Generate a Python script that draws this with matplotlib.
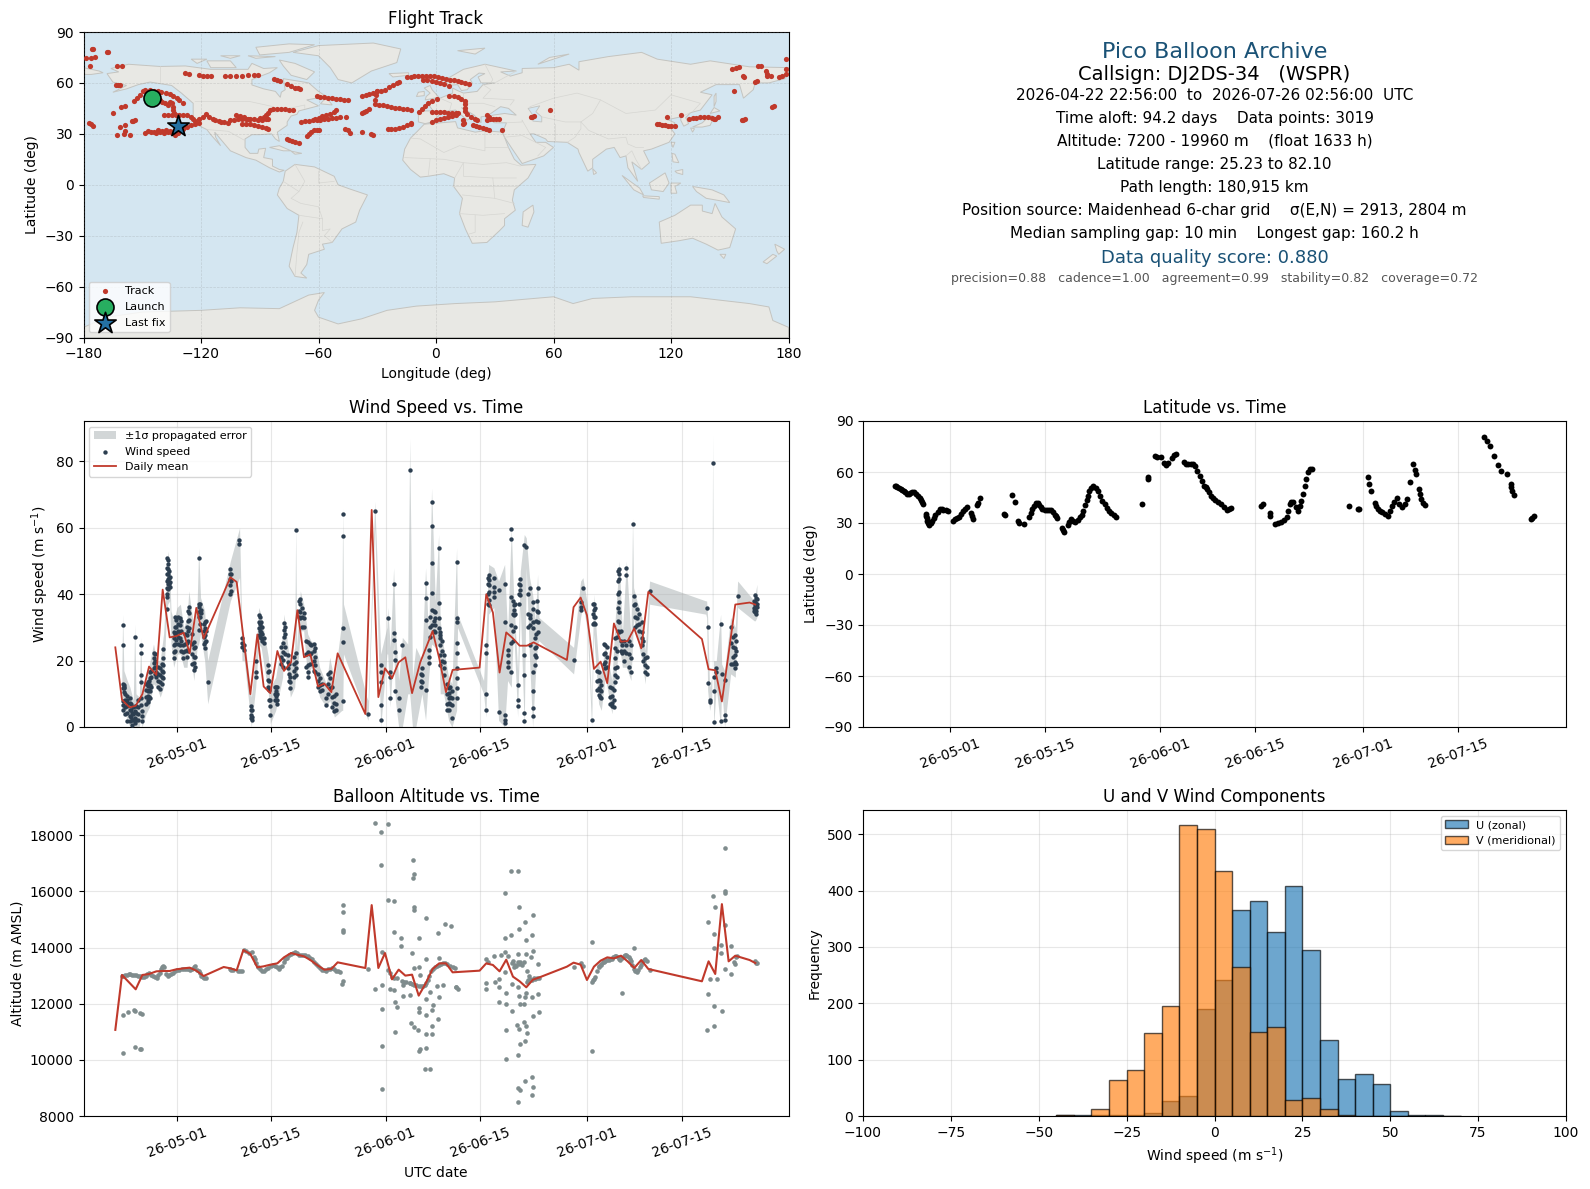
"""Pico balloon flight summary: track map, info block, wind, latitude, altitude, U/V histogram."""
from datetime import datetime

import matplotlib
matplotlib.use("Agg")
import matplotlib.dates as mdates
import matplotlib.pyplot as plt
from matplotlib.patches import Polygon

RED = "#c0392b"
NAVY = "#2c3e50"
GREY = "#7f8c8d"
TITLE_BLUE = "#1a5276"

# ---- map outlines (lon, lat) ----
LAND = [
    [(-168,65.5),(-162,66.5),(-166,68.5),(-157,71),(-141,69.7),(-128,70),(-115,68),(-108,68),(-96,68),(-94,71.5),(-88,68.5),(-81,69),(-85,66),(-94,62),(-94,58.8),(-88,56.5),(-82,55),(-79.5,51.5),(-79,54.5),(-77,56),(-78,62.5),(-70,61),(-65,60),(-60,55),(-56,52),(-66,50),(-60,46.5),(-65,45),(-70,43.5),(-71,41.5),(-74,40.5),(-76,37),(-76,35),(-81,31),(-80,25.5),(-82,27),(-84,30),(-90,29.5),(-94,29.5),(-97.5,27),(-97.5,22),(-95,18.5),(-91,18.5),(-90.5,21),(-87,21.5),(-88,16),(-83.5,15),(-83.5,11),(-80,9),(-77.5,8.5),(-80,7.5),(-85,10),(-92,14.5),(-97,16),(-105,20),(-109,25.5),(-113,31),(-112.5,28),(-110,23),(-115,29.5),(-117,32.5),(-120.5,34.5),(-124,40),(-124,48),(-130,54),(-135,58.5),(-146,60.5),(-152,59),(-158,56.5),(-165,54.5),(-158,58.5),(-165,60.5)],
    [(-80,73.5),(-72,71.5),(-62,66.5),(-66,62),(-74,64.5),(-78,70)],
    [(-117,73),(-105,73),(-102,69),(-115,69)],
    [(-90,76.5),(-75,78),(-62,82.5),(-75,83),(-92,81)],
    [(-125,74),(-117,74),(-122,71.5)],
    [(-96,76),(-82,75.5),(-92,74.5)],
    [(-110,76),(-100,76),(-105,74.5)],
    [(-59,47.7),(-53,47),(-56,51.5)],
    [(-85,22),(-80,23),(-74,20),(-78,20)],
    [(-74,19.8),(-68.5,18.5),(-72,18)],
    [(-73,78),(-60,82),(-32,83.5),(-18,80),(-20,72),(-33,67),(-43,60),(-50,62),(-54,69),(-60,76)],
    [(-77,8),(-72,12),(-62,10.5),(-52,5),(-50,0),(-44,-2.5),(-35,-6),(-39,-15),(-41,-22),(-48,-26),(-53,-34),(-58,-35),(-57,-38),(-65,-41),(-66,-47),(-69,-52),(-66,-55),(-72,-54),(-75,-48),(-73,-37),(-71,-28),(-70,-18),(-76,-14),(-81,-6),(-80,-2),(-78,2)],
    [(-6,35.7),(10,37.2),(11,33.5),(20,31),(25,31.8),(34,31),(37,22),(40,15),(43.5,11.5),(51,12),(47,4),(40,-3),(39,-9),(40.5,-15),(35,-20),(35,-24),(32.5,-27),(26,-34),(18.5,-34.5),(15,-26),(12,-17),(13.5,-8),(9,-1),(9.5,4),(4,6.5),(-4,5),(-8,4.5),(-13,9),(-17,14.5),(-16,21),(-13,27.5),(-9.5,31.5)],
    [(49.5,-12),(50,-16),(47,-25),(44,-24),(44.5,-16)],
    [(-9,37),(-9,43.5),(-1.5,43.5),(-4.5,48.5),(2,51),(8.5,54),(8.5,57),(11,55.5),(14,54),(21,55),(24,59),(30,60),(23,60),(21.5,63.5),(25,65.5),(22,65.8),(17.5,62),(18.5,60),(16,56),(13,55.5),(11,59),(6,58.5),(5,62),(14,68),(25,71),(41,67),(33,66.5),(38,64),(44,66),(44,68.5),(60,69),(68,71),(73,67.5),(73,72.5),(88,75.5),(105,78),(113,74),(130,71),(140,73),(160,69.5),(180,69),(180,65),(178,62.5),(170,60),(163,60),(162,56),(157,51),(155.5,57),(155,59),(143,59),(135,54.5),(141,53),(135,44),(130,42.5),(127.5,39.5),(129,36),(126.5,34.5),(125,38),(125,40),(121,39),(118,38.5),(122,36.5),(120,33),(122,30),(119,25),(110,21),(106,20),(109,13),(105,9),(100,13.5),(103,2),(100.5,6),(98,10),(97,17),(94,16),(91,22),(87,21),(80,15),(80,10),(77.5,8),(73,19),(72.5,21),(67,25),(57,25.5),(56,27),(50,30),(48,30),(51,25),(56,25),(60,22),(55,17),(44,12.5),(39,21),(35,28),(34,31),(36,36.5),(30,36.5),(26.5,39),(29,41),(35,42),(41,41),(37,45),(33,46),(28,42),(26,40.5),(23,40),(23,36.5),(19.5,41),(13,45.5),(18,40),(16,38),(10,44),(3,43),(0,39),(-2,37),(-5.5,36)],
    [(-180,69),(-172,67),(-170,66),(-176,65),(-180,65)],
    [(-5.5,50),(1.5,51.5),(-2,56),(-3,58.5),(-6,57),(-3,54),(-5,52)],
    [(-10,52),(-6,52.5),(-6,55),(-9,54.5)],
    [(-24,65.5),(-14,66),(-14,64.5),(-22,63.5)],
    [(11,79),(25,80.5),(20,77)],
    [(52,71),(68,77),(58,75)],
    [(131,34),(136,34),(140,35),(142,40),(140,41),(136,36.5)],
    [(140,42),(145,43.5),(142,45.5)],
    [(130,33.5),(132,33),(131,31)],
    [(142,46),(143,49),(143,54),(142,52)],
    [(120,25),(122,25),(121,22)],
    [(120.5,18.5),(122,18),(124,13),(121,13.5)],
    [(122,8),(126,9),(126,6),(123,7)],
    [(109,1),(117,7),(119,1),(116,-4),(110,-3)],
    [(95,5.5),(104,-2),(106,-6),(101,-3)],
    [(105.5,-6.5),(114,-7),(114,-8.5),(106,-7.5)],
    [(120,1),(125,1),(122,-1),(123,-5),(120,-5)],
    [(131,-1),(141,-3),(147,-6),(150,-10.5),(143,-9),(138,-8),(133,-4)],
    [(80,9.5),(82,7),(80.5,6)],
    [(114,-22),(122,-18),(130,-12),(136,-12),(136,-15.5),(141,-17),(142.5,-11),(146,-19),(153,-26),(150,-37),(144,-38.5),(138,-35),(131,-31.5),(124,-33),(115,-34.5)],
    [(145,-41),(148,-41),(147,-43.5)],
    [(173,-35),(178,-38),(175,-41),(174,-39)],
    [(172,-41),(174,-42),(169,-46.5),(167,-45.5)],
    [(-180,-84),(-168,-78),(-150,-75),(-120,-74),(-100,-72.5),(-80,-73),(-65,-65),(-57,-63.5),(-60,-68),(-62,-74),(-60,-78),(-50,-82),(-38,-79),(-25,-74),(-10,-71.5),(10,-70),(30,-69),(60,-66),(70,-70),(80,-67),(100,-66),(130,-66),(160,-70),(170,-72),(172,-80),(180,-84),(180,-90),(-180,-90)],
]
CASPIAN = [(47,45),(53,46.5),(51,43),(54,40),(54,37),(49.5,37.5),(49.5,41)]
BORDERS = [
    [(-123,49),(-95,49),(-83,46),(-82,42.5),(-75,45),(-67,47),(-67,45)],
    [(-141,69.7),(-141,60.5)],
    [(-117,32.5),(-106,31.5),(-97.5,26)],
    [(-70,-18),(-58,-20),(-58,-27),(-54,-26),(-57,-30),(-53,-34)],
    [(-72,-54),(-71,-40),(-70,-28),(-68,-22)],
    [(-78,2),(-70,-4),(-74,-8),(-69,-11),(-60,-13),(-58,-20)],
    [(-72,12),(-67,2),(-70,-4)],
    [(-60,8),(-60,1),(-52,2)],
    [(-13,27.5),(-8,27),(4,19),(12,23),(25,20),(25,31.8)],
    [(25,22),(37,22)],
    [(-16,16),(4,15),(14,13),(24,12),(36,13),(43,11)],
    [(9.5,4),(14,13),(14,5),(29,4),(41,4)],
    [(13.5,-6),(30,-8),(40,-11)],
    [(12,-17),(24,-18),(35,-17)],
    [(20,-18),(20,-28),(17,-29)],
    [(30,-8),(29,4)],
    [(-4,5),(-3,15)],
    [(8,-1),(30,-1),(41,-1)],
    [(2,51),(8,48),(7,44)],
    [(14,54),(14,48),(24,48),(30,46)],
    [(24,59),(28,56),(24,51),(40,50),(38,47)],
    [(48,46),(60,51),(72,54),(84,50),(97,42),(112,44),(120,53),(135,48),(131,43)],
    [(54,40),(66,37),(74,37),(80,42),(84,50)],
    [(61,36),(61,25)],
    [(44,38),(46,34),(48,30)],
    [(36,36.5),(44,37),(44,38)],
    [(74,37),(78,32),(88,27),(97,28),(98,24),(102,22),(106,22)],
    [(67,25),(71,28),(74,33),(74,37)],
    [(97,17),(100,20),(102,15),(105,9)],
    [(41,67),(30,60)],
    [(25,71),(29,62),(28,60)],
    [(35,28),(44,29),(56,22),(52,17)],
    [(125,40),(130,42.5)],
]

# ---- track, split by region (lon, lat) ----
TRACK_PACIFIC = [
    (-178.8,74.6),(-176.4,74.6),(-174,75.4),(-175.7,80),(-175,79.8),(-168,78.5),(-167.4,78),(-176.9,70),(-162.7,69.9),(-160.3,69.9),
    (-163.6,59),(-162.5,59),(-161.5,58.8),(-165,42.2),(-160.7,46),(-159,46.6),(-155.4,37.3),(-154.5,37.6),(-153.5,37.9),(-177,36.5),(-176,35.6),(-175,34.6),
    (-161.2,34),(-159,35),(-163,29.5),(-159.5,30),(-159,31.6),(-156.4,29.5),(-148.7,30.5),(-147,31.5),(-145.5,31),(-144,31.2),(-143,30.5),(-142,32),(-141,31),
    (-140,31.5),(-139,30.5),(-138,32),(-137,31),(-136,31.5),(-135,30.7),(-134,31.5),(-133.5,29.5),(-132,30.5),(-154,49.6),(-152.5,51),(-151,53),(-149.5,55),(-148.7,55.8),
    (-146,55.8),(-144,55.5),(-142,55.2),(-140.3,54.9),(-138,54),(-136,53.2),(-134.2,52.5),(-132.5,51),(-131,49.8),(-129,48),(-141,50),(-140,49),(-138.5,48),(-137,47),
    (-136,49),(-135,48),(-134.5,46),(-134.2,44),(-134,42),(-139,41),(-137,41),(-135,41),(-133,41),(-131,41),(-129,41),(-127,41),
]
TRACK_AMERICA = [
    (-133,31),(-131,32),(-129,33),(-127,34),(-125,35),(-123,36),(-121,36.5),(-125,40),(-124,38.5),(-123,37.5),(-121,38.7),(-119,40),(-117.4,41.4),(-116,40),(-114,39),(-112.6,38),(-111,37.5),
    (-110,37),(-108,37),(-106,36.5),(-105,38),(-103,38),(-101,38.5),(-99,38.5),(-97,38.7),(-95,38.5),(-93,38.5),(-91,38),(-89,38),(-87,38.5),(-86,38.5),
    (-99,36),(-97,35.7),(-95,35.5),(-93,35),(-91,34.5),(-89,34),(-87,33.5),(-86,33),(-102,41),(-100,40.5),(-98,40),(-96,39),(-90,39.5),(-88,40),(-87,41),(-86,42.5),(-85,44),
    (-83,44.5),(-81,44.8),(-79,44.7),(-77,44.5),(-75,44.3),(-73,44),(-128,65.6),(-126,65.4),(-121,64.8),(-119,64.3),(-117,64.2),(-115,64.2),(-107.8,64.2),(-105,64.1),(-102,64),(-99,64.3),(-96,64.5),(-93,64.6),(-91,64.6),
    (-82.5,62.3),(-81,61.8),(-79.5,61),(-76,59.5),(-74,58.3),(-72,57.2),(-70.5,56.8),(-69.2,56.4),(-76,27),(-75,26.2),(-73.5,25.7),(-72,25),(-70,24.8),
]
TRACK_ATLANTIC = [
    (-66,29),(-65,30),(-64,31),(-62.5,32),(-61,32.4),(-60,32.4),(-69,37),(-67,37.3),(-65,37.7),(-63,38),(-61,38),(-59,38.3),(-57,38.7),(-55,39),(-53,39.3),(-51,39.6),(-49,39.8),(-46,40),
    (-62,38.5),(-60,39.5),(-58,40.5),(-56,41),(-54,41.5),(-52,43),(-51,44),(-61,52),(-59,51.8),(-57,51.5),(-55,51.2),(-53,51),(-51,50.7),(-49,50.3),(-47,50.2),(-45,50),
    (-38,52),(-36,52.7),(-34,53.5),(-32,54),(-30,55),(-28,55.3),(-26,56),(-24,57.5),(-22,59),(-20,60),(-19,60.3),(-38,42),(-37,43),(-36,43.5),(-34,44.7),
    (-31,47.6),(-29,47),(-27,46.8),(-25,46.3),(-23,45.8),(-21,45.5),(-19,45),(-17,44.6),(-15,44.4),(-13,44.1),(-31,50),(-30.5,53),(-30,55),
    (-46.4,33),(-45,32),(-44,30.4),(-38,31),(-32,29.5),(-33,30),(-24.7,33),(-23,33),(-21,33),(-19,33.2),(-17,34),(-15,35),(-13,36),(-12.6,36.5),
]
TRACK_EUROPE = [
    (-15,63.3),(-13,63.5),(-11,63.8),(-9,64),(-7,64),(-5,64),(-3,64),(-1,63.8),(1,63.5),(3,63),(5,62.5),(7,62),(9,61.5),(11,61),(13,60.5),(15,60),(17,59.3),
    (-6.6,61.7),(-4.5,61.7),(-2,61),(0,60.5),(2,60),(4,59.2),(6.6,58.4),(-8.5,42.8),(-7,44.5),(-5.5,46.5),(-4,48),(-2,49.5),(0.6,50.6),
    (6.6,52),(9,52),(11,51.5),(13,50.5),(15,49.6),(15,47.5),(15,45.5),(15,43.5),(16,41.5),(18,40),(20,39),(21,38),
    (-2,43),(0,43),(2,42.8),(4,42.6),(6,42.4),(8,42.2),(10,42),(11.4,42),(-2,37),(0,38),(2,38.8),(4,39.5),(6,40),(8,40.6),(10.2,41),(14,38),(14,36),(14.5,36.5),
    (18.7,35),(20.5,34.5),(22,34),(24,33.5),(25.5,32.8),(27,32),(26,38),(27.5,38.5),(29,38.6),(30.5,38.8),(32,39),(33.6,32.4),(27,40),(26,41),
]
TRACK_ASIA = [
    (48.3,39.8),(49.2,40.2),(50,40.4),(58.4,44.1),(112.6,35.5),(114,35.5),(115.5,35.2),(117,35),(118.5,34.6),(120,34.6),(122,34.4),(118,39.8),(125,41),
    (129.4,38.7),(131,39.2),(133,39.6),(135,39.9),(137,40),(139,39.8),(141,39.5),(142.5,38.8),(143.9,39.8),(142,38.5),(156,37.9),(157,38),(158,38.5),(171.6,46.1),(172.5,46.5),
    (152.3,55.4),(151,68),(153,69),(154.7,69.5),(157,64.2),(157.3,63.2),(163,60.3),(164,61),(164.3,69.7),(166,69.8),(168.4,67.2),(169,65.5),(169.2,64.2),(171,64),(175,63.3),(176.5,64),(178.8,65.2),(178.8,68),(178.8,74),
]
LAUNCH = (-144.8, 51.2)
LAST_FIX = (-131.8, 34.4)

# ---- info block ----
INFO_LINES = [
    "2026-04-22 22:56:00  to  2026-07-26 02:56:00  UTC",
    "Time aloft: 94.2 days    Data points: 3019",
    "Altitude: 7200 - 19960 m    (float 1633 h)",
    "Latitude range: 25.23 to 82.10",
    "Path length: 180,915 km",
    "Position source: Maidenhead 6-char grid    \u03c3(E,N) = 2913, 2804 m",
    "Median sampling gap: 10 min    Longest gap: 160.2 h",
]
QUALITY_LINE = "precision=0.88   cadence=1.00   agreement=0.99   stability=0.82   coverage=0.72"

# ---- wind speed: day offsets are days from 2026-05-01 ----
WIND_COLUMNS_MAY = [
    (-8.08,[30.6,24.6,13.1,11.7,7.7,6.7,5.2]),(-7.93,[12.7,12.2,11.7,10.5]),(-7.43,[9.2,8.2,7.2,6.2,4.2,1.7]),(-7.04,[8.7,7.2,5.2,3.2,1.7]),(-6.7,[4.2,2.2,0.7]),
    (-6.29,[27,6.2,4.7,2.7,1.2]),(-6.1,[6.2,4.2,2.2]),(-5.4,[24.7,22.2,15.7,13.7,8.7,6.7]),(-5.2,[4.7,3.2,1.9]),(-4.36,[13.7,12.5,10.7,9.2,8.2,7.4]),
    (-4.06,[16.7,14.7,12.7,10.7,8.7]),(-3.47,[22.2,20.7,19.2,17.7]),(-3.07,[16.7,15.2]),(-2.48,[17.7,15.7,13.7,11.4]),(-2.03,[23.4,20.7,18.7,16.7,14.7]),
    (-1.54,[40.2,39.2,35.7]),(-1.39,[50.2,49.2,47.7,46.2,44.7,43.2,41.7]),(-1.09,[45.2,43.7,42.2]),(-0.5,[28.7,26.7,24.7,22.7,20.7]),(-0.1,[32.2,30.2,28.2,26.2]),
    (0.4,[32.7,30.7,28.7,26.7,24.7]),(0.84,[24.7,22.7,20.7]),(1.49,[30.2,27.7,25.2,23.2,21.2]),(1.73,[36.2,34.2,32.2,29.7]),(2.48,[25.7,23.7,21.2,19.2,17.2]),
    (3.22,[51,37.2,36.2,34.7,33.2,29.2]),(3.57,[35.2,34.2]),(4.11,[31.7,29.7,27.7,25.7,23.7]),(4.56,[13.6]),(7.93,[47.7,46.2,44.7,42.7,40.2]),(9.17,[56.2,55.2]),
    (9.66,[26.7,25.2,24.2]),(10,[24.7,23.2]),(11.05,[6.2,5.2,3.7,2.7]),(11.7,[19.9,16.7,15.2]),(12.14,[33.7,31.7,29.7,27.7]),(12.49,[31.7,30.2,28.7,26.7]),(12.88,[26.7,25.2]),
    (13.58,[18.7,16.7,14.2,12.2]),(13.87,[8.2,6.2,3.7]),(14.67,[12.2,10.7,9.2,8.2]),(15.71,[25.2,22.7,20.2,18.2]),(15.9,[31.2,29.2,27.2]),(16.5,[21.7,19.7,17.7]),
    (16.85,[15.2,13.7,11.7]),(17.64,[59.4,22.2,19.7,17.7,15.7]),(18.33,[38.7,37.2,34.7,32.7]),(18.83,[34.2,32.7,30.2]),(19.43,[25.7,22.7,18.7,16.7,15.2]),(19.9,[24.7,22.2]),
    (20.56,[23.7,21.2,18.7,16.7]),(21.2,[14.7,12.7,10.7]),(22.2,[8.7,6.7]),(22.7,[16.7,14.7,11.7]),(23.4,[9.2,7.2,4.7]),(24.63,[64.2,57.6,29.7,25.7,7.8]),(28.34,[3.9]),(29.39,[65.1]),
    (30.28,[18.7,16.7,13.7,6.7,2.2]),(31.32,[32.7]),(31.7,[16.7,15.2,8.7]),(32.2,[43,28.2,26.2]),(32.46,[22.7,20.2,10.7]),(32.95,[8.7,5.2]),(33.5,[24.7]),(34.59,[77.4]),
    (-7.7,[10,8,6,4]),(-6.9,[7,5,3]),(-6.5,[6,4,2]),(-5.8,[8,6,4,2]),(-4.6,[13,11,9,7]),(-4.2,[14,11,9]),(-3.8,[17,15,12]),(-3.3,[22,20,18,16]),(-2.8,[18,16,14,12]),(-2.2,[19,17,15,13]),
    (-1.45,[51,48,46,44,42]),(-1.25,[47,45,43]),(-0.3,[33,30,28,25,23]),(0.15,[33,31,29,27,25]),(0.6,[32,29,26,23]),(1.2,[28,25,23]),(1.6,[35,32,29,26,23]),(2.3,[28,25,22,19]),(2.7,[24,21,18]),(3.35,[37,35,33,31]),
    (3.95,[31,29,27,25]),(4.25,[32,29,26]),(8.0,[46,44,41]),(11.15,[5,3,2]),(12.3,[33,31,29,27]),(12.7,[30,28,26]),(13.7,[17,14,11,8]),(14.5,[12,10,8]),(14.85,[12,10,8,7]),(15.5,[24,21,19]),
    (16.1,[30,28,24,22]),(16.7,[19,16,14]),(17.4,[21,19,17,15]),(18.1,[38,35,33]),(18.6,[36,33,30]),(19.2,[26,22,18]),(19.7,[25,22,19]),(20.3,[25,23,20,17]),(20.9,[16,14,12]),(21.5,[13,11]),(22.5,[16,13,10]),(23.1,[12,9,6]),(23.7,[10,7,5]),
]
WIND_COLUMNS_JUN = [
    (36.4,[17.7,15.7,13.7]),(36.95,[43.3,38.9,32.2,11.2]),(37.4,[23.2,21.2,19.2]),(37.84,[67.8,60.6,49.5,40.5,35.2,30.7]),(38.39,[34.7,32.7,30.7,28.7]),(38.89,[54,37.5,32.7,29.7]),
    (39.13,[28.7,27.7,26.7,24.7,21.7,18.7]),(39.63,[21.7,19.7,17.7,15.7]),(40.37,[11.7,10.2,8.7,7.2,5.2]),(40.87,[10.7,8.7,6.7,2.7]),(41.56,[49.8,32.7,31.7,25.2,22.2,17.7,14.7,11.7,8.7]),
    (45.92,[9.9,5.1,24.7,22.2]),(46.32,[45.7,44.2,42.7,40.7,38.2,36.7]),(47.1,[44.9,42.2,40.7,39.2]),(47.8,[41.2,4.5]),(48.7,[43.2,31.5,3.7,2.2,1.2]),(49.14,[23.2,21.7,19.7,18.2]),
    (49.69,[59.7,56.7,39.2,30.7,25.2,16.7]),(50.03,[36.7,35.2,33.7]),(50.63,[12.7,8.2,6.2]),(51.03,[44.7,42.7,41.2,39.7]),(51.62,[54.9,21.7,15.7,4.2,1.7]),(51.92,[54.2]),
    (52.41,[41.9,33.7,32.7,30.7,24.7]),(52.86,[37.7,35.7,31.7,29.7,16.7,10.7,5.7,3.2]),(53.26,[26.7,23.7,21.7,18.7]),(53.6,[41.9,34.7,31.7,28.7]),
    (58.95,[20.1]),(60,[37.7,36.2,35.2]),(60.34,[41.8]),(61.63,[2.1]),(61.93,[37.2,35.2,33.2,31.2]),(62.67,[16.7,14.2,11.7,9.7]),(63.07,[12.7,10.7,8.7]),(63.66,[24.7,22.2,19.7,17.7]),
    (64.65,[11.7,9.2,7.2,6.2]),(65.15,[26.7,23.7,20.7,17.7,15.7,13.7]),(65.74,[47.7,46.2,44.7,40.7,37.7,34.7,31.7,28.7]),(66.2,[24.7,22.2]),(66.8,[47.9,45.7,24.7,22.2]),
    (67.48,[24.7,20.7,16.7]),(67.72,[61.2]),(67.87,[39.5,36.7]),(68.37,[35.7,32.7,30.7]),(69.11,[31.7,28.7,26.7,24.7]),(69.6,[20.7,18.7,16.7]),(70.25,[41]),
    (78.73,[36]),(78.88,[30,13.2]),(79.17,[8.2,7.4]),(79.62,[79.5]),(79.77,[15.2,10.7,1.4]),(80.16,[17.7,16.7]),(80.81,[30.9,1.7]),(80.96,[15.9]),(81.4,[14.2,3.7,2.2]),
    (82.3,[30.2,25.2,18.9]),(82.99,[27.7,23.7,21.7,19.7,17.7]),(83.34,[39.6]),(85.96,[39.7,37.7,36.7,35.7,34.7]),(86.2,[38.7,37.2,36.2]),
    (36.2,[16,14,12]),(37.6,[33,30,27]),(38.2,[35,32,29]),(39.4,[26,23,20]),(40.1,[13,10,7,5]),(40.6,[12,9,7]),(46.2,[45,43,40,37]),(49.9,[38,34,29,26]),(50.3,[37,34,30]),(50.9,[43,40,37]),(52.2,[40,34,30]),(53.4,[32,28,24,21]),(53.5,[38,35]),
    (61.8,[37,34,31]),(62.1,[36,33,31]),(62.5,[17,14,11]),(62.9,[14,11,9]),(63.4,[25,22,19]),(63.9,[24,21,18]),(64.4,[12,9,7]),(64.9,[11,8,6]),(65.4,[27,23,18,15]),(65.6,[47,44,40,36,32,29]),(66,[29,26,23]),(66.5,[26,23,20]),(67.2,[26,22,18]),
    (68.1,[37,33,30]),(68.7,[34,31,29]),(69.3,[26,22,20]),(69.8,[21,18,16]),(82.6,[27,24,21,19]),(83.1,[26,23,19]),(85.7,[38,36,35]),(86.05,[39,37,35,34]),
]
# error band envelope (day, low, high)
WIND_BAND = [
    (-8.2,8,17),(-8.08,3,34),(-7.9,6,17),(-7.4,2,14),(-7,0,12),(-6.5,0,8),(-6.29,0,31),(-6.1,0,10),(-5.6,0,9),(-5.4,3,27),(-5.2,0,10),(-4.6,4,14),(-4.1,6,19),(-3.5,13,25),(-3,12,20),(-2.5,9,20),(-2,12,28),(-1.6,33,42),(-1.39,37,53),(-1.09,38,48),
    (-0.9,25,35),(-0.5,18,32),(0,22,36),(0.5,22,37),(1,18,30),(1.5,18,33),(1.75,27,41),(2.5,14,30),(3,24,38),(3.22,25,54),(3.5,28,39),(4.11,20,35),(4.56,7,20),(7.93,38,50),(9.3,45,60),(9.66,20,28),(10,20,27),(11.05,0,9),(11.7,12,22),(12.14,25,36),
    (12.5,24,34),(13.58,10,21),(13.87,1,12),(14.67,5,15),(15.7,15,28),(15.9,25,34),(16.5,15,24),(16.85,9,18),(17.5,12,24),(17.64,17,61),(17.8,14,24),(18.33,29,41),(18.83,29,37),(19.43,14,28),(19.9,18,26),(20.56,15,25),(21.2,9,18),(22.2,6,13),(22.7,8,21),(23.4,3,14),
    (24.5,5,32),(24.63,5,66),(24.75,22,37),(28.2,3,9),(28.4,2,8),(29.39,60,68),(30.28,0,22),(31.2,22,30),(31.32,22,36),(31.7,6,24),(32.2,25,48),(32.46,8,30),(32.95,0,14),(33.5,0,27),(34.3,10,25),(34.59,10,87),(35,0,15),(35.5,0,24),(36.4,10,20),(36.95,2,48),
    (37.4,15,27),(37.84,25,72),(38.39,24,38),(38.89,25,58),(39.13,10,32),(39.63,10,24),(40.37,2,15),(40.87,0,13),(41.56,5,54),(41.7,30,34),(45.57,10,14),(45.92,3,27),(46.32,34,49),(47.1,36,48),(47.8,2,44),(48.7,0,49),(49.14,14,28),(49.69,12,60),(50.03,30,40),(50.63,3,17),
    (51.03,36,47),(51.62,0,58),(51.92,48,57),(52.41,20,45),(52.86,0,40),(53.26,15,32),(53.6,25,46),(53.8,26,33),(58.95,16,24),(60,33,44),(60.34,37,45),(61,29,37),(61.63,0,7),(61.93,28,40),(62.67,7,19),(63.07,5,16),(63.66,15,25),(64.65,4,14),(65.15,14,33),(65.74,25,50),
    (66.2,18,28),(66.8,18,50),(67.48,14,27),(67.72,25,63),(67.87,33,42),(68.37,27,38),(69.11,20,33),(69.6,13,23),(70.25,37,44),(78.6,34,38),(78.73,33,38),(78.88,11,33),(79.17,5,12),(79.5,8,15),(79.62,60,88),(79.77,0,20),(80.16,12,20),(80.81,0,34),(80.96,12,19),(81.4,0,17),
    (82.3,16,33),(82.99,15,30),(83.34,36,44),(85.8,32,38),(85.96,32,40),(86.2,33,43),
]
WIND_MEAN_DAY = [-9.17,-8.18,-7.04,-6.14,-5.15,-4.16,-3.07,-2.13,-1.09,-0.1,1,1.88,2.87,3.96,6.94,7.93,8.87,10.9,11.94,12.88,13.87,14.92,15.9,16.95,17.89,18.88,19.82,20.96,21.9,22.94,23.88,28,28.94,29.93,30.92,31.96,32.95,33.94,34.94,36.16,37.99,38.98,39.98,40.97,44.98,45.97,46.96,47.95,48.94,49.94,50.93,52.02,53.01,57.96,58.95,60,60.94,61.98,62.97,63.96,64.95,66,66.98,67.97,69.01,70.06,78.03,79.02,80.01,81,82,82.99,85.12,85.96]
WIND_MEAN = [24,8.2,5.9,6.4,9.9,18.2,15.7,41.4,27,27.4,28.4,22.2,35.9,26.7,40.4,45.1,43.7,9.9,27.9,12.2,10.2,22.9,16.9,19.5,35.2,21,21.9,12.2,13.1,10.5,22.2,3.9,65.4,9,17.7,14.7,19.5,21,10.2,19.5,28.9,20.7,10.5,17.2,17.9,40,34.5,16.4,28.5,26.7,24.5,24.5,25.5,20.2,36.1,39,33.7,17.5,19.7,13.2,31.2,25.7,25.9,29.7,23.7,40.7,26.5,17.4,17.1,7.7,22.2,36.9,37.5,36.9]

# ---- latitude vs time (day, lat) ----
LAT_FIRST_PASS = [
    (-8.13,51.6),(-7.95,51.5),(-7.8,51.4),(-7.5,50.6),(-7.26,50),(-7,49.5),(-6.8,49),(-6.55,48),(-6.33,47),(-6.05,47.2),(-5.8,47.6),(-5.5,48),(-5.26,48.4),(-4.95,47.2),(-4.66,46),(-4.45,45),(-4.26,43.7),(-4.1,42.5),(-3.93,41.2),
    (-3.5,35.5),(-3.46,34.3),(-3.38,33),(-3.33,31.4),(-3.15,30),(-3,28.8),(-2.8,30),(-2.6,31.4),(-2.35,33),(-2.13,34.9),(-1.8,36.5),(-1.47,38),(-1.2,38),(-0.93,37.8),(-0.6,37.4),(-0.27,36.9),
    (0.53,31.4),(0.75,32.5),(1,32.8),(1.33,33.7),(1.65,35.5),(2,37.3),(2.3,38.5),(2.6,39.6),(3.06,35.9),(3.25,34),(3.4,32.4),(4.06,40.6),(4.1,41.5),(4.53,44.7),
    (8.06,35.1),(8.2,34.8),(9.19,46.5),(9.66,42.5),(10.13,31),(10.2,29.8),(11,29.4),(11.73,33.7),(11.95,36),(12.13,38.2),(12.4,40),(12.66,41.8),(12.95,41.5),(13.19,40.8),(13.45,39.5),(13.66,38.2),(14,37.8),(14.32,37.6),(14.65,37.7),(14.99,37.8),(15.25,36.5),(15.52,34.9),(15.7,34),(15.86,32.9),
    (16.52,27.1),(16.65,26),(16.79,24.9),(17.39,28.8),(17.6,30.5),(17.85,32.4),(18.2,31.3),(18.52,30.4),(18.85,31.8),(19.19,33.3),(19.45,35),(19.65,37.3),(19.9,40.5),(20.19,43.5),(20.35,46),(20.52,49),(20.85,50.7),(21.19,52),(21.5,50.5),(21.85,49),(22.2,46),(22.52,43.1),(22.85,41),(23.18,38.6),(23.5,37),(23.85,35.9),(24.2,34.8),(24.52,33.7),
]
LAT_SECOND_PASS = [
    (28.38,41.2),(29.25,55.9),(29.28,57),(30.31,69.6),(30.5,69),(31.18,68.6),(31.6,65.5),(31.85,64.1),(32.2,65.5),(32.71,68),(33.1,70),(33.38,70.6),(34.51,65.7),(34.9,65),(35.2,65),(35.51,64.9),(35.85,64.5),(36.18,63.7),(36.5,60.5),(36.84,57.8),(37.2,55),(37.51,52),(37.75,51),(37.97,50),(38.25,48),(38.51,46),(38.85,44.5),(39.17,43.5),(39.55,42.5),(39.97,41.2),(40.4,39.5),(40.84,37.8),(41.15,38),(41.5,38.8),
    (45.97,40.2),(46.2,41),(47.17,35.9),(47.2,34),(47.97,29.4),(48.4,30),(48.83,30.4),(49.3,31.5),(49.7,33.3),(49.9,37),(50.17,41.2),(50.4,42.5),(50.63,42.2),(51,39.5),(51.37,37.3),(51.6,40),(51.83,43.1),(52.1,47),(52.36,52),(52.6,56),(52.83,59.8),(53.15,61.5),(53.5,61.8),
    (58.96,40.2),(60.16,38.2),(60.4,38),(61.62,56.9),(61.9,53),(62.16,49),(62.69,41.8),(62.9,39.8),(63.16,38.2),(63.5,37),(63.82,36.3),(64.2,35.3),(64.62,34.3),(65,37),(65.29,40.2),(65.6,42.5),(65.96,44.5),(66.3,41),(66.69,39.2),(67.1,41),(67.49,44.1),(67.82,53.9),(68.36,64.7),(68.6,61),(68.82,58.8),(69.16,50),(69.3,47),(69.49,44.1),(69.8,42),(70.16,40.8),
    (78.82,80.4),(79.2,78),(79.68,75.1),(80.21,69.6),(80.81,64.1),(81.34,60.4),(82.21,58.8),(82.74,52.9),(82.85,51),(82.94,49),(83.21,46.5),(85.81,32.4),(85.95,33),(86.14,34.3),
]

# ---- altitude vs time (day, altitude) ----
ALT_RIBBON_EARLY = [
    (-8.2,13000),(-8,13000),(-7.8,13030),(-7.5,13040),(-7.2,13060),(-7,13050),(-6.7,13040),(-6.4,13030),(-6.1,13010),(-5.8,13000),(-5.5,13000),(-5.2,12960),(-4.9,12950),(-4.6,12970),(-4.4,13070),(-4.1,13100),(-3.8,13040),(-3.5,13000),(-3.2,12950),(-3,12930),(-2.8,13010),(-2.6,13100),(-2.4,13220),(-2.2,13300),(-2.1,13340),(-2,13310),
    (-1.7,13050),(-1.4,13000),(-1.2,13030),(-0.9,13060),(-0.6,13100),(-0.3,13160),(0,13200),(0.3,13210),(0.7,13240),(1,13230),(1.3,13240),(1.6,13220),(1.9,13200),(2.2,13220),(2.5,13310),(2.7,13330),(2.9,13210),(3.2,13150),(3.4,13100),(3.6,13000),(3.8,12950),(4,12900),(4.3,12930),
    (7.9,13230),(8.1,13210),(8.3,13190),(9.1,13180),(9.4,13170),(9.7,13170),(10,13920),(10.2,13890),(10.7,13790),(11.15,13852),(11.4,13650),(11.6,13600),(11.8,13450),(12,13300),(12.3,13240),(12.6,13160),(12.9,13180),(13.2,13230),(13.5,13270),(13.9,13330),(14.2,13390),(14.5,13330),(14.8,13310),(15.1,13250),(15.3,13290),(15.6,13350),(15.9,13480),
    (16.1,13610),(16.4,13640),(16.7,13720),(17,13780),(17.3,13810),(17.6,13840),(17.9,13800),(18.2,13740),(18.5,13720),(18.8,13730),(19.1,13740),(19.4,13700),(19.7,13640),(20,13580),(20.3,13470),(20.6,13400),(20.9,13340),(21.2,13280),(21.5,13210),(21.8,13190),(22.2,13180),(22.5,13240),(22.8,13220),(23.1,13270),(23.4,13230),(23.7,13180),(24,13170),(24.3,13130),
    (31.4,13200),(31.7,13100),(32,12950),(32.3,12900),(32.7,12930),(33.4,12800),(33.7,12790),(34,12780),(34.6,12720),(35,12700),(35.3,12670),(35.6,12650),(35.9,12620),(36.2,12620),(36.5,12640),(36.8,12680),(37,12750),(37.3,12850),(37.5,13000),(37.7,13150),(38,13240),(38.3,13300),(38.6,13350),(38.9,13370),(39.2,13420),(39.6,13450),(39.9,13450),(40.2,13420),(40.6,13360),(41,13300),(41.3,13280),(41.4,12600),(41.5,12585),(41.7,12540),
]
ALT_RIBBON_LATE = [
    (45.97,13592),(46.3,13473),(47.16,13687),(48.2,13734),(48.7,13829),(49.14,13687),(49.79,13450),(50.18,13390),(50.63,13473),(51.03,13473),(51.52,13497),(50.04,13296),(51.97,13166),(52.31,13000),(52.51,12881),(53.26,12881),(53.75,12917),(52.02,12786),(48.8,13118),(58.95,13296),(60.05,13450),(60.34,13355),
    (61.68,12786),(61.93,12869),(62.18,12940),(62.67,13296),(62.97,13390),(63.27,13473),(63.66,13533),(64.16,13568),(64.65,13592),(65.05,13710),(65.5,13675),(65.89,13568),(66.39,13710),(66.79,13734),(67.13,13651),(67.48,13509),(67.87,13237),(68.37,13142),(68.77,13296),(69.11,13473),(69.6,13592),(69.86,13533),(70.25,13213),
    (85.86,13533),(86.06,13450),(86.2,13438),(83.24,13687),(82.8,13473),(82.9,13400),(83.1,13660),
    (49.9,13520),(50.4,13350),(50.8,13420),(51.25,13380),(52.2,12860),(52.7,12840),(53,12900),(53.45,12930),(61.8,12830),(62.45,13180),(62.8,13340),(63.1,13430),(63.5,13500),(63.9,13550),(64.4,13580),(64.85,13670),(65.3,13700),(65.7,13610),(66.15,13640),(66.6,13730),(66.95,13700),(67.3,13580),(67.65,13370),(68.1,13180),(68.55,13210),(68.95,13390),(69.35,13540),
]
ALT_OUTLIERS_MAY = [
    (-8.08,11601),(-7.33,11720),(-6.44,11779),(-6.19,11755),(-5.45,11684),(-5.2,11648),(-8.08,10250),(-6.29,10463),(-5.45,10392),(-5.35,10369),(24.63,15511),(24.63,15263),(24.63,14623),(24.63,14552),(24.63,12810),(24.53,12703),(28.34,13236),
    (29.39,18427),(30.28,18107),(31.32,18391),(30.28,16933),(31.32,15689),(32.2,15654),(32.2,14552),(33.25,14338),(33.25,14054),(30.48,13841),(29.39,12525),(30.43,12668),(31.62,12525),(32.3,12490),(30.43,11814),(32.36,12063),(32.66,11885),(32.36,10997),(30.43,10499),(30.43,8970),
    (35.03,17111),(35.18,16614),(35.03,16471),(35.18,15428),(35.18,15346),(36.97,15049),(35.93,14338),(34.89,13805),(35.18,13260),(35.93,13307),(36.08,13035),(36.97,13592),(33.55,12668),(34.59,12727),(33.55,12276),(34.59,12312),(35.93,11850),(35.93,11720),(36.97,12170),(36.97,11600),
    (34.74,11316),(35.18,11162),(35.78,11067),(36.97,10925),(36.08,10392),(35.93,10321),(36.97,10428),(36.82,9670),(37.56,9682),(39.78,14836),(40.67,14765),(38.74,14516),(38.89,13615),(38.89,12241),(37.99,11956),(37.84,11779),(38.74,11458),(37.84,11209),(37.84,10925),(39.53,12668),(38.59,12632),(37.65,12407),
]
ALT_OUTLIERS_JUN = [
    (49.59,16720),(50.63,16732),(48.7,15938),(50.78,15440),(52.86,15156),(51.67,14907),(50.78,14658),(49.59,14445),(48.7,14338),(51.82,14267),(52.71,14445),(52.86,13888),(52.56,13650),(50.63,13770),(51.82,13770),(53.6,13402),
    (45.97,12739),(45.97,12525),(47.21,12774),(47.8,12881),(47.8,12596),(48.85,12383),(47.8,12063),(48.85,11992),(49.74,11743),(49.74,12703),(50.63,12596),(50.78,12276),(51.67,12241),(52.71,12241),(53.6,12347),(50.93,11992),(51.52,11992),(51.82,12395),(53.75,11708),(52.86,11565),
    (48.85,11067),(50.48,11245),(51.52,11352),(51.82,11209),(50.78,11103),(51.97,10961),(51.67,10677),(50.93,10570),(48.85,10025),(50.63,10178),(52.71,9396),(51.67,9254),(50.63,9006),(50.93,8935),(52.86,9041),(52.71,8757),(50.63,8508),
    (61.63,14196),(61.63,10321),(66.09,12383),(67.87,13983),(78.88,14907),(79.62,15832),(79.92,15440),(81.4,17538),(81.4,16009),(81.4,15938),(79.77,14480),(79.77,13983),(80.81,14090),(80.81,13805),(81.4,14800),(82.3,14054),(81.4,13236),(82.3,13070),(79.17,12881),(80.26,12881),(78.88,12347),(79.77,11921),(80.96,11743),(78.73,11067),(79.77,11209),
]
ALT_MEAN_DAY = [-9.17,-8.18,-6.14,-5.15,-4.16,-3.07,-2.13,-1.09,-0.1,1,1.88,2.87,3.96,6.94,7.93,8.87,9.86,10.9,11.94,12.88,13.87,14.92,15.9,16.95,17.89,18.88,19.82,20.96,21.9,22.94,23.88,28,28.94,29.93,30.92,31.96,32.95,33.94,34.94,35.93,36.92,37.99,38.98,39.98,40.97,44.98,45.97,46.96,47.95,48.94,49.94,50.93,51.92,52.91,53.9,57.96,58.95,60,60.94,61.98,62.97,63.96,64.95,66,66.98,67.97,69.01,70.06,78.03,79.02,80.01,81,82,82.99,85.12,85.96]
ALT_MEAN = [11068,13023,12513,13023,13058,13153,13165,13165,13225,13260,13284,13177,12987,13307,13260,13189,13912,13770,13296,13331,13390,13438,13651,13805,13746,13687,13556,13355,13213,13237,13473,13272,15512,13272,13805,12869,13213,13000,13035,12288,12703,13237,13438,13438,13118,13177,13438,13379,13153,13568,12964,12798,12585,12857,12940,13320,13462,13391,12845,13320,13533,13651,13615,13710,13509,13272,13556,13237,12798,13509,13059,15547,13509,13710,13556,13450]

# ---- histogram: bins of 5 m/s, left edges ----
BIN_LEFT = list(range(-45, 70, 5))
U_COUNT = [1,1,1,2,2,5,26,36,190,241,365,381,326,409,294,135,66,75,57,8,2,1,0]
V_COUNT = [1,0,12,64,82,147,195,517,510,434,264,149,158,28,32,12,1,0,0,0,0,0,0]

DATE_TICKS = [0, 14, 31, 45, 61, 75]
BASE_DAY = mdates.date2num(datetime(2026, 5, 1))


def box(left, top, right, bottom):
    """Axes rectangle from reference pixel edges."""
    return [left / 1590, 1 - bottom / 1189, (right - left) / 1590, (bottom - top) / 1189]


def split(points):
    return [p[0] for p in points], [p[1] for p in points]


def dates(days):
    return [BASE_DAY + d for d in days]


def setup_time_axis(ax, xlim):
    ax.set_xlim(BASE_DAY + xlim[0], BASE_DAY + xlim[1])
    ax.set_xticks(dates(DATE_TICKS))
    ax.xaxis.set_major_formatter(mdates.DateFormatter("%y-%m-%d"))
    ax.tick_params(axis="x", labelrotation=20)
    ax.grid(True, alpha=0.3)


fig = plt.figure(figsize=(15.9, 11.89), dpi=100)

# flight track
ax = fig.add_axes(box(83.5, 32, 788.5, 337.5))
ax.set_facecolor("#d4e6f1")
for outline in LAND:
    ax.add_patch(Polygon(outline, closed=True, fc="#e8e8e4", ec="#c4c4c0", lw=0.7, zorder=1))
ax.add_patch(Polygon(CASPIAN, closed=True, fc="#d4e6f1", ec="#c4c4c0", lw=0.6, zorder=1.1))
for line in BORDERS:
    xs, ys = split(line)
    ax.plot(xs, ys, color="#d6d6d2", lw=0.5, zorder=1.2)
track = TRACK_PACIFIC + TRACK_AMERICA + TRACK_ATLANTIC + TRACK_EUROPE + TRACK_ASIA
lon, lat = split(track)
ax.scatter(lon, lat, s=14, color=RED, linewidths=0, zorder=3, label="Track")
ax.scatter(*LAUNCH, s=150, color="#27ae60", edgecolors="k", linewidths=1.2, zorder=5, label="Launch")
ax.scatter(*LAST_FIX, s=260, marker="*", color="#2471a3", edgecolors="k", linewidths=1.2, zorder=5, label="Last fix")
ax.set_xlim(-180, 180)
ax.set_ylim(-90, 90)
ax.set_xticks(range(-180, 181, 60))
ax.set_yticks(range(-90, 91, 30))
ax.grid(True, alpha=0.25, ls="--", lw=0.5, color="#808080", zorder=2)
ax.set_axisbelow(False)
ax.set_xlabel("Longitude (deg)")
ax.set_ylabel("Latitude (deg)")
ax.set_title("Flight Track", fontsize=12)
ax.legend(loc="lower left", fontsize=8)

# info block
CX = 1214.5 / 1590
fig.text(CX, 1 - 52 / 1189, "Pico Balloon Archive", fontsize=16, color=TITLE_BLUE, ha="center", va="center")
fig.text(CX, 1 - 74.5 / 1189, "Callsign: DJ2DS-34   (WSPR)", fontsize=14, ha="center", va="center")
for i, txt in enumerate(INFO_LINES):
    fig.text(CX, 1 - (95 + i * 23.15) / 1189, txt, fontsize=11, ha="center", va="center")
fig.text(CX, 1 - 258 / 1189, "Data quality score: 0.880", fontsize=13, color=TITLE_BLUE, ha="center", va="center")
fig.text(CX, 1 - 279 / 1189, QUALITY_LINE, fontsize=9, color="#555555", ha="center", va="center")

# wind speed
ax = fig.add_axes(box(83.5, 421, 788.5, 727))
wind_day = []
wind_speed = []
for column_day, speeds in WIND_COLUMNS_MAY + WIND_COLUMNS_JUN:
    for s in speeds:
        wind_day.append(column_day)
        wind_speed.append(s)
band_day = [b[0] for b in WIND_BAND]
ax.fill_between(dates(band_day), [b[1] for b in WIND_BAND], [b[2] for b in WIND_BAND],
                color=GREY, alpha=0.35, linewidth=0, label="\u00b11\u03c3 propagated error")
ax.scatter(dates(wind_day), wind_speed, s=10, color=NAVY, linewidths=0, zorder=3, label="Wind speed")
ax.plot(dates(WIND_MEAN_DAY), WIND_MEAN, color=RED, lw=1.3, zorder=4, label="Daily mean")
setup_time_axis(ax, (-13.9, 90.9))
ax.set_ylim(0, 92.2)
ax.set_yticks(range(0, 81, 20))
ax.set_ylabel("Wind speed (m s$^{-1}$)")
ax.set_title("Wind Speed vs. Time", fontsize=12)
ax.legend(loc="upper left", fontsize=8)

# latitude
ax = fig.add_axes(box(863, 421, 1566, 727))
d, v = split(LAT_FIRST_PASS + LAT_SECOND_PASS)
ax.scatter(dates(d), v, s=18, color="k", linewidths=0, zorder=3)
setup_time_axis(ax, (-12.8, 90.9))
ax.set_ylim(-90, 90)
ax.set_yticks(range(-90, 91, 30))
ax.set_ylabel("Latitude (deg)")
ax.set_title("Latitude vs. Time", fontsize=12)

# altitude
ax = fig.add_axes(box(83.5, 810, 788.5, 1116))
d, v = split(ALT_RIBBON_EARLY + ALT_RIBBON_LATE + ALT_OUTLIERS_MAY + ALT_OUTLIERS_JUN)
ax.scatter(dates(d), v, s=11, color=GREY, linewidths=0, zorder=3)
ax.plot(dates(ALT_MEAN_DAY), ALT_MEAN, color=RED, lw=1.5, zorder=4)
setup_time_axis(ax, (-13.9, 90.9))
ax.set_ylim(8000, 18900)
ax.set_yticks(range(8000, 18001, 2000))
ax.set_xlabel("UTC date")
ax.set_ylabel("Altitude (m AMSL)")
ax.set_title("Balloon Altitude vs. Time", fontsize=12)

# U / V histogram
ax = fig.add_axes(box(863, 810, 1566, 1116))
ax.bar(BIN_LEFT, U_COUNT, width=5, align="edge", color="tab:blue", edgecolor="k", alpha=0.65, label="U (zonal)", zorder=3)
ax.bar(BIN_LEFT, V_COUNT, width=5, align="edge", color="tab:orange", edgecolor="k", alpha=0.65, label="V (meridional)", zorder=3)
ax.set_xlim(-100, 100)
ax.set_ylim(0, 543)
ax.set_yticks(range(0, 501, 100))
ax.grid(True, alpha=0.3)
ax.set_xlabel("Wind speed (m s$^{-1}$)")
ax.set_ylabel("Frequency")
ax.set_title("U and V Wind Components", fontsize=12)
ax.legend(loc="upper right", fontsize=8)

fig.savefig("out.png", dpi=100)
